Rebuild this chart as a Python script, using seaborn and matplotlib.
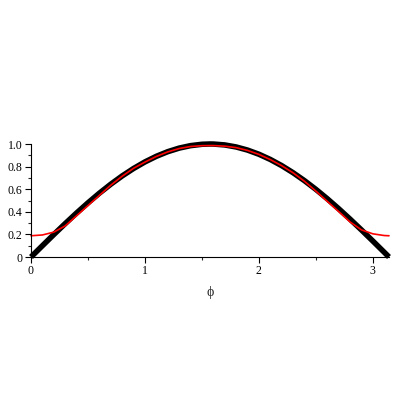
import matplotlib
matplotlib.use("Agg")
import matplotlib.pyplot as plt
import pandas as pd
import numpy as np
import seaborn as sns

sns.set_style("white")
plt.rcParams['font.family'] = ['Liberation Serif', 'DejaVu Serif']

# values
phi = [0.0, 0.1, 0.2, 0.3, 0.4, 0.5, 0.6, 0.7, 0.8, 0.9, 1.0, 1.1, 1.2, 1.3, 1.4, 1.5, 1.5708,
       1.6, 1.7, 1.8, 1.9, 2.0, 2.1, 2.2, 2.3, 2.4, 2.5, 2.6, 2.7, 2.8, 2.9, 3.0, 3.1, 3.1416]
exact = [0.0, 0.0998, 0.1987, 0.2955, 0.3894, 0.4794, 0.5646, 0.6442, 0.7174, 0.7833, 0.8415,
         0.8912, 0.9320, 0.9636, 0.9854, 0.9975, 1.0,
         0.9996, 0.9917, 0.9738, 0.9463, 0.9093, 0.8632, 0.8085, 0.7457, 0.6755, 0.5985,
         0.5155, 0.4274, 0.3350, 0.2392, 0.1411, 0.0416, 0.0]
approx = [0.188, 0.195, 0.22, 0.275, 0.365, 0.455, 0.545, 0.635, 0.715, 0.785, 0.84,
          0.89, 0.93, 0.96, 0.978, 0.985, 0.986,
          0.986, 0.981, 0.968, 0.943, 0.908, 0.862, 0.808, 0.745, 0.670, 0.583,
          0.492, 0.402, 0.31, 0.24, 0.205, 0.19, 0.188]

df = pd.DataFrame({"phi": phi, "exact": exact, "approx": approx})

fig = plt.figure(figsize=(4, 4), dpi=100)
ax = fig.add_axes([0.0775, 0.3575, 0.895, 0.2825])

sns.lineplot(data=df, x="phi", y="exact", color="black", linewidth=4.0, ax=ax,
             clip_on=False, solid_capstyle="butt")
sns.lineplot(data=df, x="phi", y="approx", color="#ff0000", linewidth=1.2, ax=ax, clip_on=False)

ax.set_xlim(0, np.pi)
ax.set_ylim(0, 1.0)
ax.set_xticks([0, 1, 2, 3])
ax.set_xticks([0.5, 1.5, 2.5], minor=True)
ax.set_yticks([0, 0.2, 0.4, 0.6, 0.8, 1.0])
ax.set_yticklabels(["0", "0.2", "0.4", "0.6", "0.8", "1.0"])
ax.set_yticks(np.arange(0.1, 1.0, 0.2), minor=True)
ax.tick_params(axis="both", which="major", direction="out", length=4, width=0.8,
               labelsize=8.5, pad=2, colors="black")
ax.tick_params(axis="both", which="minor", direction="out", length=2, width=0.8)
ax.tick_params(bottom=True, left=True, which="both")

for s in ["top", "right"]:
    ax.spines[s].set_visible(False)
for s in ["left", "bottom"]:
    ax.spines[s].set_color("black")
    ax.spines[s].set_linewidth(0.8)

ax.set_xlabel("ϕ", fontsize=10, labelpad=6)
ax.set_ylabel("")

fig.savefig("out.png", dpi=100)
